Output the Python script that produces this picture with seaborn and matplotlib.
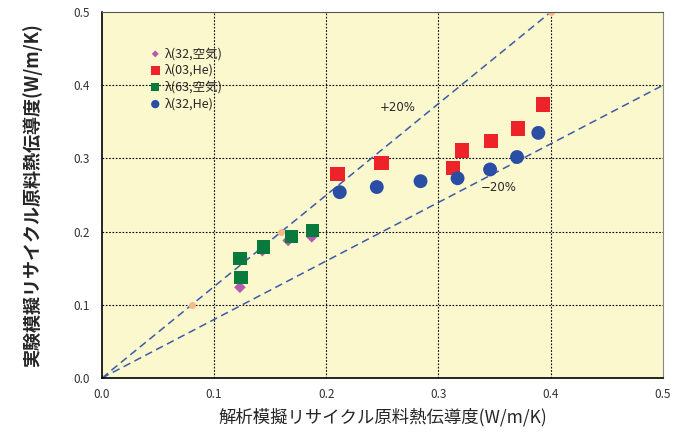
import matplotlib
matplotlib.use("Agg")
import matplotlib.pyplot as plt
import seaborn as sns
import pandas as pd

# data
air32_x = [0.123, 0.125, 0.143, 0.166, 0.187]
air32_y = [0.124, 0.164, 0.174, 0.188, 0.193]
he03_x = [0.210, 0.249, 0.313, 0.321, 0.347, 0.371, 0.393]
he03_y = [0.279, 0.294, 0.287, 0.311, 0.324, 0.341, 0.374]
air63_x = [0.124, 0.123, 0.144, 0.169, 0.188]
air63_y = [0.137, 0.163, 0.179, 0.193, 0.202]
he32_x = [0.212, 0.245, 0.284, 0.317, 0.346, 0.370, 0.389]
he32_y = [0.254, 0.261, 0.269, 0.273, 0.285, 0.302, 0.335]

plus_x = [0.0, 0.08, 0.16, 0.4]
plus_y = [0.0, 0.1, 0.2, 0.5]
minus_x = [0.0, 0.5]
minus_y = [0.0, 0.4]

ticks = [0.0, 0.1, 0.2, 0.3, 0.4, 0.5]

sns.set_style("white")
plt.rcParams['font.family'] = ['Noto Sans CJK JP', 'DejaVu Sans']

fig = plt.figure(figsize=(6.75, 4.34), dpi=100)
ax = fig.add_axes([0.151, 0.129, 0.831, 0.843])
ax.set_facecolor('#FBF8CE')

for v in ticks[1:-1]:
    ax.axvline(v, color='black', lw=0.8, ls=(0, (1.5, 1.5)), zorder=1)
    ax.axhline(v, color='black', lw=0.8, ls=(0, (1.5, 1.5)), zorder=1)

ax.plot(plus_x, plus_y, color='#3B5BAA', lw=1.1, ls=(0, (5, 3)), zorder=2,
        marker='o', ms=4, mfc='#F5B88A', mec='#F5B88A')
ax.plot(minus_x, minus_y, color='#3B5BAA', lw=1.1, ls=(0, (5, 3)), zorder=2)

series = [
    ('λ(32,空気)', air32_x, air32_y, 'D', '#B55AAE', 35),
    ('λ(03,He)', he03_x, he03_y, 's', '#EE2229', 110),
    ('λ(63,空気)', air63_x, air63_y, 's', '#087A3C', 90),
    ('λ(32,He)', he32_x, he32_y, 'o', '#2B4EA5', 100),
]
for name, xs, ys, m, c, s in series:
    df = pd.DataFrame({'x': xs, 'y': ys})
    sns.scatterplot(data=df, x='x', y='y', marker=m, color=c, s=s,
                    edgecolor='none', label=name, ax=ax, zorder=3)

ax.text(0.248, 0.365, '+20%', fontsize=8.5, family=['DejaVu Sans'])
ax.text(0.338, 0.255, '−20%', fontsize=8.5, family=['DejaVu Sans'])

ax.set_xlim(0, 0.5)
ax.set_ylim(0, 0.5)
ax.set_xticks(ticks)
ax.set_yticks(ticks)
ax.set_xticklabels([f'{t:.1f}' for t in ticks], fontsize=8.5, color='#333333')
ax.set_yticklabels([f'{t:.1f}' for t in ticks], fontsize=8.5, color='#333333')
ax.tick_params(axis='x', length=0, pad=7)
ax.tick_params(axis='y', length=0, pad=9)

for side in ['left', 'bottom']:
    ax.spines[side].set_color('black')
    ax.spines[side].set_linewidth(1.2)
ax.spines['top'].set_color('#555555')
ax.spines['right'].set_color('#888888')

ax.set_xlabel('解析模擬リサイクル原料熱伝導度(W/m/K)', fontsize=12.5, labelpad=5)
ax.set_ylabel('実験模擬リサイクル原料熱伝導度(W/m/K)', fontsize=13,
              fontweight='bold', labelpad=22)

leg = ax.legend(loc='upper left', bbox_to_anchor=(0.075, 0.918), frameon=False,
                fontsize=9, handletextpad=0.3, handlelength=1.0,
                labelspacing=0.3, markerscale=0.6, borderaxespad=0)

fig.savefig('out.png', dpi=100, facecolor='white')
